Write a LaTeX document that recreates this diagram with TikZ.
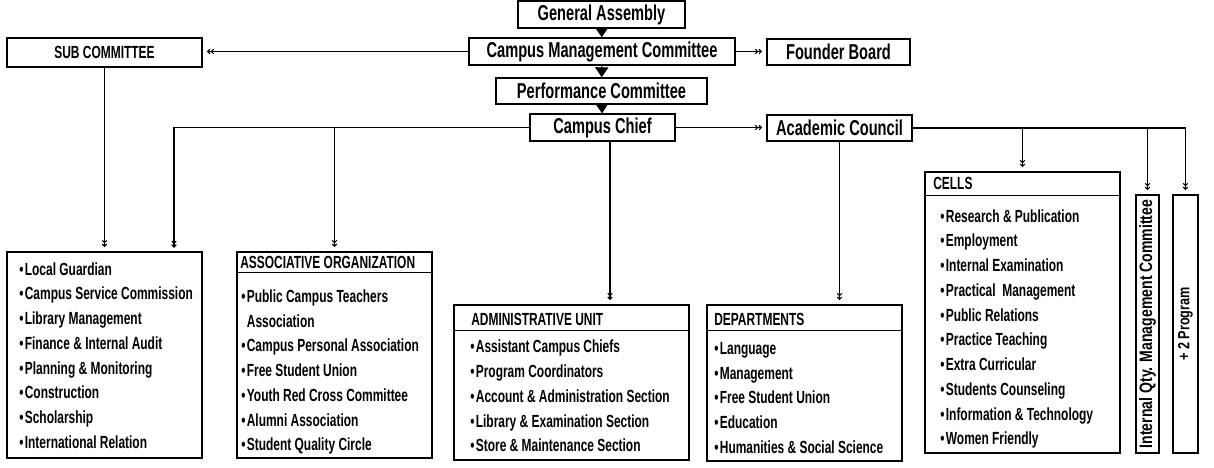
\documentclass[tikz,border=0pt]{standalone}
\usepackage{fontspec}
\setmainfont{Liberation Sans}[FakeStretch=0.68]
\newfontfamily\sidefont{Liberation Sans}[FakeStretch=0.78]
\usepackage{graphicx}
\usetikzlibrary{arrows.meta,calc,positioning}
\newcommand{\bul}{\textbullet\hspace{1pt}}

\begin{document}
\begin{tikzpicture}[
        x=0.025cm, y=-0.025cm,
        sz/.style 2 args={minimum width=#1*0.025cm, minimum height=#2*0.025cm},
        orgbox/.style={rectangle, draw=black, line width=1pt, inner sep=0pt, align=center, font=\bfseries\fontsize{15.3}{17}\selectfont},
        listbox/.style={rectangle, draw=black, line width=1pt, inner sep=0pt},
        hdr/.style={anchor=west, inner sep=0pt, font=\bfseries\fontsize{12.5}{14}\selectfont},
        items/.style={anchor=west, inner sep=0pt, align=left, font=\bfseries\fontsize{12.5}{17.6}\selectfont},
        arrow/.style={line width=0.8pt, -{Straight Barb[length=1.6pt,width=3.2pt] Straight Barb[length=1.6pt,width=3.2pt]}, shorten >=3pt},
        flow/.style={line width=0.8pt, -{Triangle[length=0.25cm,width=0.33cm]}}
    ]
        \useasboundingbox (0,0) rectangle (1214,467);

        % top chain
        \node[orgbox, sz={167}{27}] (ga) at (601.5,14.5) {General Assembly};
        \node[orgbox, sz={266}{27}] (cmc) at (602,51.5) {Campus Management Committee};
        \node[orgbox, sz={143}{26}] (fb) at (838.5,52) {Founder Board};
        \node[orgbox, sz={195}{29}, font=\bfseries\fontsize{12.5}{14}\selectfont] (sub) at (104.5,52.5) {SUB COMMITTEE};
        \node[orgbox, sz={211}{26}] (pc) at (601.5,91) {Performance Committee};
        \node[orgbox, sz={145}{27}] (cc) at (602.5,127.5) {Campus Chief};
        \node[orgbox, sz={145}{26}] (ac) at (839.5,128) {Academic Council};

        % lower boxes
        \node[listbox, sz={195}{206}] (lg) at (104.5,355) {};
        \node[items] (lgl) at (19,355.5) {\bul Local Guardian\\ \bul Campus Service Commission\\ \bul Library Management\\ \bul Finance \& Internal Audit\\ \bul Planning \& Monitoring\\ \bul Construction\\ \bul Scholarship\\ \bul International Relation};

        \node[listbox, sz={195}{206}] (ao) at (334.5,355) {};
        \node[hdr] (aoh) at (240,262) {ASSOCIATIVE ORGANIZATION};
        \node[items] (aol) at (241,372) {\bul Public Campus Teachers\\ \phantom{\bul}Association\\ \bul Campus Personal Association\\ \bul Free Student Union\\ \bul Youth Red Cross Committee\\ \bul Alumni Association\\ \bul Student Quality Circle};

        \node[listbox, sz={235}{155}] (au) at (571.5,382.5) {};
        \node[hdr] (auh) at (471,319) {ADMINISTRATIVE UNIT};
        \node[items] (aul) at (470,396) {\bul Assistant Campus Chiefs\\ \bul Program Coordinators\\ \bul Account \& Administration Section\\ \bul Library \& Examination Section\\ \bul Store \& Maintenance Section};

        \node[listbox, sz={195}{156}] (dp) at (804.5,383) {};
        \node[hdr] (dph) at (714,319) {DEPARTMENTS};
        \node[items] (dpl) at (714,398) {\bul Language\\ \bul Management\\ \bul Free Student Union\\ \bul Education\\ \bul Humanities \& Social Science};

        \node[listbox, sz={195}{281}] (ce) at (1022.5,312.5) {};
        \node[hdr] (ceh) at (933,183) {CELLS};
        \node[items] (cel) at (940,329) {\bul Research \& Publication\\ \bul Employment\\ \bul Internal Examination\\ \bul Practical~ Management\\ \bul Public Relations\\ \bul Practice Teaching\\ \bul Extra Curricular\\ \bul Students Counseling\\ \bul Information \& Technology\\ \bul Women Friendly};

        \node[listbox, sz={23}{258}, font=\sidefont\bfseries\fontsize{12.8}{14}\selectfont] (iq) at (1147.5,324) {\rotatebox{90}{Internal Qty. Management Committee}};
        \node[listbox, sz={25}{258}, font=\sidefont\bfseries\fontsize{11.5}{13}\selectfont] (tp) at (1185.5,324) {\rotatebox{90}{+ 2 Program}};

        % header rules
        \draw[line width=1pt] ($(ao.north west)+(0,21)$) -- ($(ao.north east)+(0,21)$);
        \draw[line width=1pt] ($(au.north west)+(0,26)$) -- ($(au.north east)+(0,26)$);
        \draw[line width=1pt] ($(dp.north west)+(0,26)$) -- ($(dp.north east)+(0,26)$);
        \draw[line width=1pt] ($(ce.north west)+(0,24)$) -- ($(ce.north east)+(0,24)$);

        % connectors
        \draw[flow] (ga) -- (cmc);
        \draw[flow] (cmc) -- (pc);
        \draw[flow] (pc) -- (cc);
        \draw[arrow] (cmc.west) -- (cmc.west -| sub.east);
        \draw[arrow] (cmc.east) -- (cmc.east -| fb.west);
        \draw[arrow] (sub.south) -- (sub.south |- lg.north);
        \coordinate (lgin) at (174,252);
        \draw[arrow] (cc.west) -| (lgin);
        \draw[arrow] (ao.north |- cc.west) -- (ao.north);
        \draw[arrow] ($(cc.south)+(7.5,0)$) coordinate (ccout) -- (ccout |- au.north);
        \draw[arrow] (cc.east) -- (cc.east -| ac.west);
        \draw[arrow] (ac.south) -- (ac.south |- dp.north);
        \draw[arrow] (ac.east) -| (tp.north);
        \draw[arrow] (ce.north |- ac.east) -- (ce.north);
        \draw[arrow] (iq.north |- ac.east) -- (iq.north);
    \end{tikzpicture}
\end{document}
